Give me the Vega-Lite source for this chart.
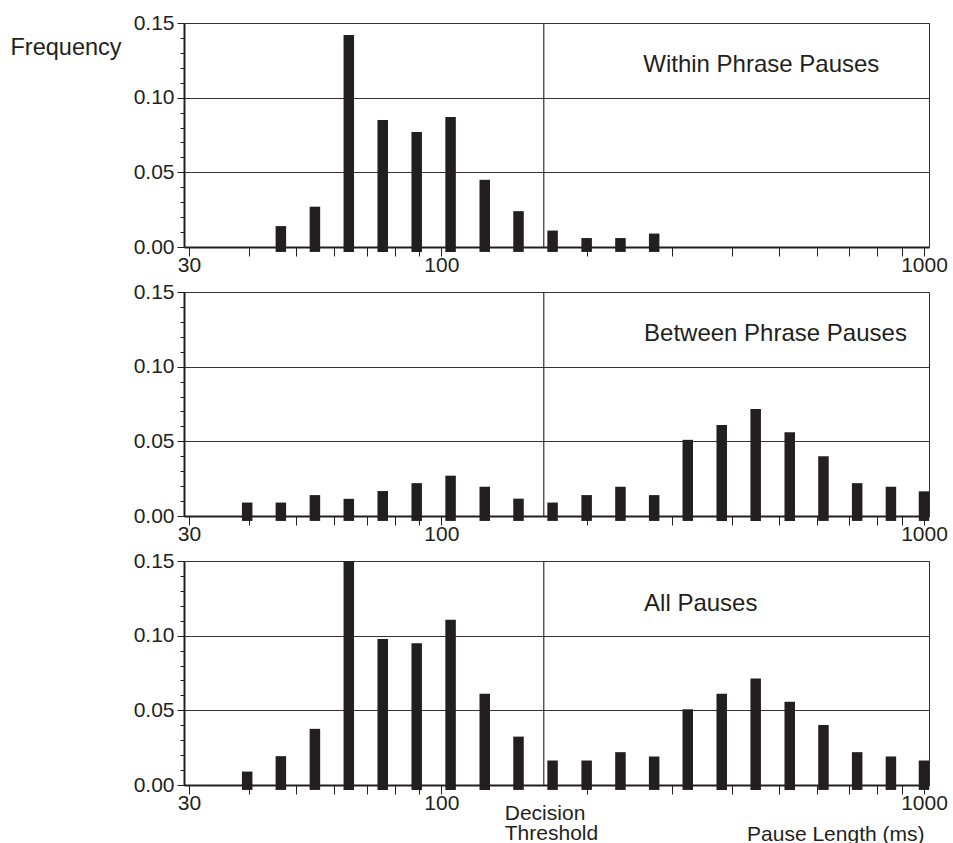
{
  "$schema": "https://vega.github.io/schema/vega-lite/v6.json",
  "padding": {"left": 9, "top": 11, "right": 0, "bottom": 0},
  "background": "white",
  "datasets": {
    "one": [{"k": 1}],
    "pauses": [
      {"panel": "Within", "ms": 46.5, "freq": 0.014},
      {"panel": "Within", "ms": 54.7, "freq": 0.027},
      {"panel": "Within", "ms": 64.3, "freq": 0.142},
      {"panel": "Within", "ms": 75.6, "freq": 0.085},
      {"panel": "Within", "ms": 88.9, "freq": 0.077},
      {"panel": "Within", "ms": 104.5, "freq": 0.087},
      {"panel": "Within", "ms": 123, "freq": 0.045},
      {"panel": "Within", "ms": 144.5, "freq": 0.024},
      {"panel": "Within", "ms": 170, "freq": 0.011},
      {"panel": "Within", "ms": 200, "freq": 0.006},
      {"panel": "Within", "ms": 235, "freq": 0.006},
      {"panel": "Within", "ms": 276, "freq": 0.009},

      {"panel": "Between", "ms": 39.6, "freq": 0.009},
      {"panel": "Between", "ms": 46.5, "freq": 0.009},
      {"panel": "Between", "ms": 54.7, "freq": 0.014},
      {"panel": "Between", "ms": 64.3, "freq": 0.0115},
      {"panel": "Between", "ms": 75.6, "freq": 0.0167},
      {"panel": "Between", "ms": 88.9, "freq": 0.022},
      {"panel": "Between", "ms": 104.5, "freq": 0.027},
      {"panel": "Between", "ms": 123, "freq": 0.0196},
      {"panel": "Between", "ms": 144.5, "freq": 0.0116},
      {"panel": "Between", "ms": 170, "freq": 0.009},
      {"panel": "Between", "ms": 200, "freq": 0.014},
      {"panel": "Between", "ms": 235, "freq": 0.0196},
      {"panel": "Between", "ms": 276, "freq": 0.014},
      {"panel": "Between", "ms": 324, "freq": 0.051},
      {"panel": "Between", "ms": 381, "freq": 0.061},
      {"panel": "Between", "ms": 448, "freq": 0.0717},
      {"panel": "Between", "ms": 527, "freq": 0.056},
      {"panel": "Between", "ms": 619, "freq": 0.040},
      {"panel": "Between", "ms": 727, "freq": 0.022},
      {"panel": "Between", "ms": 854, "freq": 0.0196},
      {"panel": "Between", "ms": 1000, "freq": 0.0165},

      {"panel": "All", "ms": 39.6, "freq": 0.009},
      {"panel": "All", "ms": 46.5, "freq": 0.0193},
      {"panel": "All", "ms": 54.7, "freq": 0.0376},
      {"panel": "All", "ms": 64.3, "freq": 0.15},
      {"panel": "All", "ms": 75.6, "freq": 0.0978},
      {"panel": "All", "ms": 88.9, "freq": 0.0949},
      {"panel": "All", "ms": 104.5, "freq": 0.1107},
      {"panel": "All", "ms": 123, "freq": 0.0611},
      {"panel": "All", "ms": 144.5, "freq": 0.0324},
      {"panel": "All", "ms": 170, "freq": 0.0164},
      {"panel": "All", "ms": 200, "freq": 0.0164},
      {"panel": "All", "ms": 235, "freq": 0.022},
      {"panel": "All", "ms": 276, "freq": 0.0191},
      {"panel": "All", "ms": 324, "freq": 0.0507},
      {"panel": "All", "ms": 381, "freq": 0.0611},
      {"panel": "All", "ms": 448, "freq": 0.0713},
      {"panel": "All", "ms": 527, "freq": 0.0558},
      {"panel": "All", "ms": 619, "freq": 0.0402},
      {"panel": "All", "ms": 727, "freq": 0.022},
      {"panel": "All", "ms": 854, "freq": 0.0191},
      {"panel": "All", "ms": 1000, "freq": 0.0164}
    ]
  },
  "vconcat": [
    {
      "width": 745,
      "height": 224,
      "resolve": {"axis": {"y": "independent"}},
      "layer": [
        {
          "data": {"name": "pauses"},
          "transform": [{"filter": "datum.panel === 'Within'"}],
          "mark": {"type": "bar", "width": 10.5, "color": "#231f20", "clip": false},
          "encoding": {
            "x": {"field": "ms", "type": "quantitative",
                  "scale": {"type": "log", "domain": [30, 1000], "nice": false},
                  "axis": {"orient": "bottom", "values": [30,40,50,60,70,80,90,100,200,300,400,500,600,700,800,900,1000],
                           "labelExpr": "datum.value == 30 || datum.value == 100 || datum.value == 1000 ? '' + datum.value : ''",
                           "title": null}},
            "y": {"field": "freq", "type": "quantitative",
                  "scale": {"domain": [0, 0.15], "nice": false},
                  "axis": {"values": [0, 0.05, 0.1, 0.15], "format": ".2f", "orient": "left", "grid": true,
                           "title": "Frequency", "titleAngle": 0, "titleAlign": "left", "titleBaseline": "alphabetic",
                           "titleX": -174, "titleY": 31, "titleFontSize": 23.5, "titleFontWeight": "normal"}},
            "y2": {"datum": -0.0033}
          }
        },
        {
          "data": {"name": "one"},
          "mark": {"type": "rule", "color": "#333333", "strokeWidth": 1.2},
          "encoding": {
            "x": {"datum": 163, "type": "quantitative"},
            "y": {"datum": 0, "type": "quantitative",
                  "axis": {"orient": "left", "values": [0.01,0.02,0.03,0.04,0.06,0.07,0.08,0.09,0.11,0.12,0.13,0.14],
                           "labels": false, "domain": false, "grid": false, "tickSize": 4, "title": null}},
            "y2": {"datum": 0.15}
          }
        },
        {
          "data": {"name": "one"},
          "mark": {"type": "text", "align": "left", "baseline": "alphabetic", "fontSize": 24, "color": "#231f20", "font": "Liberation Sans"},
          "encoding": {
            "x": {"datum": 262, "type": "quantitative"},
            "y": {"datum": 0.1175, "type": "quantitative", "axis": null},
            "text": {"value": "Within Phrase Pauses"}
          }
        }
      ]
    },
    {
      "width": 745,
      "height": 224,
      "resolve": {"axis": {"y": "independent"}},
      "layer": [
        {
          "data": {"name": "pauses"},
          "transform": [{"filter": "datum.panel === 'Between'"}],
          "mark": {"type": "bar", "width": 10.5, "color": "#231f20", "clip": false},
          "encoding": {
            "x": {"field": "ms", "type": "quantitative",
                  "scale": {"type": "log", "domain": [30, 1000], "nice": false},
                  "axis": {"orient": "bottom", "values": [30,40,50,60,70,80,90,100,200,300,400,500,600,700,800,900,1000],
                           "labelExpr": "datum.value == 30 || datum.value == 100 || datum.value == 1000 ? '' + datum.value : ''",
                           "title": null}},
            "y": {"field": "freq", "type": "quantitative",
                  "scale": {"domain": [0, 0.15], "nice": false},
                  "axis": {"values": [0, 0.05, 0.1, 0.15], "format": ".2f", "orient": "left", "grid": true, "title": null}},
            "y2": {"datum": -0.0033}
          }
        },
        {
          "data": {"name": "one"},
          "mark": {"type": "rule", "color": "#333333", "strokeWidth": 1.2},
          "encoding": {
            "x": {"datum": 163, "type": "quantitative"},
            "y": {"datum": 0, "type": "quantitative",
                  "axis": {"orient": "left", "values": [0.01,0.02,0.03,0.04,0.06,0.07,0.08,0.09,0.11,0.12,0.13,0.14],
                           "labels": false, "domain": false, "grid": false, "tickSize": 4, "title": null}},
            "y2": {"datum": 0.15}
          }
        },
        {
          "data": {"name": "one"},
          "mark": {"type": "text", "align": "left", "baseline": "alphabetic", "fontSize": 24, "color": "#231f20", "font": "Liberation Sans"},
          "encoding": {
            "x": {"datum": 263, "type": "quantitative"},
            "y": {"datum": 0.1173, "type": "quantitative", "axis": null},
            "text": {"value": "Between Phrase Pauses"}
          }
        }
      ]
    },
    {
      "width": 745,
      "height": 224,
      "resolve": {"axis": {"y": "independent"}},
      "layer": [
        {
          "data": {"name": "pauses"},
          "transform": [{"filter": "datum.panel === 'All'"}],
          "mark": {"type": "bar", "width": 10.5, "color": "#231f20", "clip": false},
          "encoding": {
            "x": {"field": "ms", "type": "quantitative",
                  "scale": {"type": "log", "domain": [30, 1000], "nice": false},
                  "axis": {"orient": "bottom", "values": [30,40,50,60,70,80,90,100,200,300,400,500,600,700,800,900,1000],
                           "labelExpr": "datum.value == 30 || datum.value == 100 || datum.value == 1000 ? '' + datum.value : ''",
                           "title": "Pause Length (ms)", "titleX": 740, "titleY": 55, "titleAlign": "right",
                           "titleBaseline": "alphabetic", "titleFontSize": 21, "titleFontWeight": "normal"}},
            "y": {"field": "freq", "type": "quantitative",
                  "scale": {"domain": [0, 0.15], "nice": false},
                  "axis": {"values": [0, 0.05, 0.1, 0.15], "format": ".2f", "orient": "left", "grid": true, "title": null}},
            "y2": {"datum": -0.0033}
          }
        },
        {
          "data": {"name": "one"},
          "mark": {"type": "rule", "color": "#333333", "strokeWidth": 1.2},
          "encoding": {
            "x": {"datum": 163, "type": "quantitative"},
            "y": {"datum": 0, "type": "quantitative",
                  "axis": {"orient": "left", "values": [0.01,0.02,0.03,0.04,0.06,0.07,0.08,0.09,0.11,0.12,0.13,0.14],
                           "labels": false, "domain": false, "grid": false, "tickSize": 4, "title": null}},
            "y2": {"datum": 0.15}
          }
        },
        {
          "data": {"name": "one"},
          "mark": {"type": "text", "align": "left", "baseline": "alphabetic", "fontSize": 24, "color": "#231f20", "font": "Liberation Sans"},
          "encoding": {
            "x": {"datum": 263, "type": "quantitative"},
            "y": {"datum": 0.1162, "type": "quantitative", "axis": null},
            "text": {"value": "All Pauses"}
          }
        },
        {
          "data": {"name": "one"},
          "mark": {"type": "text", "align": "left", "baseline": "alphabetic", "fontSize": 21, "lineHeight": 20,
                   "dx": -39, "dy": 35, "color": "#231f20", "font": "Liberation Sans"},
          "encoding": {
            "x": {"datum": 163, "type": "quantitative"},
            "y": {"datum": 0, "type": "quantitative", "axis": null},
            "text": {"value": ["Decision", "Threshold"]}
          }
        }
      ]
    }
  ],
  "spacing": 45,
  "bounds": "flush",
  "config": {
    "font": "Liberation Sans",
    "view": {"stroke": "#333333", "strokeWidth": 1},
    "axis": {
      "labelFont": "Liberation Sans",
      "titleFont": "Liberation Sans",
      "labelFontSize": 21,
      "labelColor": "#231f20",
      "titleColor": "#231f20",
      "domainColor": "#231f20",
      "domainWidth": 2,
      "tickColor": "#231f20",
      "tickWidth": 1,
      "gridColor": "#333333",
      "gridWidth": 1,
      "gridOpacity": 1,
      "labelOverlap": false,
      "labelFlush": false
    },
    "axisX": {"tickSize": 9, "labelPadding": -2, "grid": false},
    "axisY": {"tickSize": 7, "labelPadding": 3}
  }
}
